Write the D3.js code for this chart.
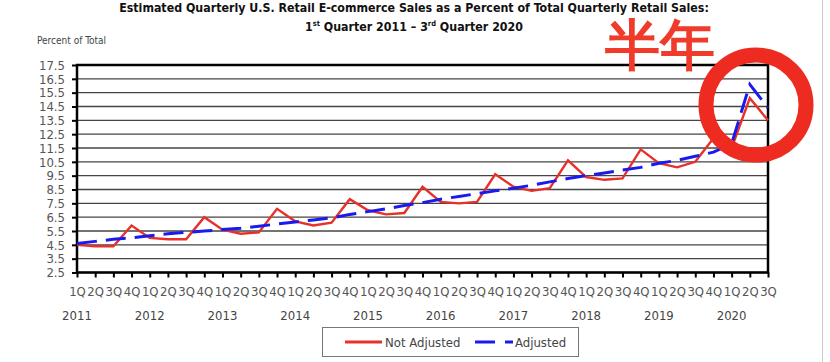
<!DOCTYPE html>
<html>
<head>
<meta charset="utf-8">
<script src="https://cdn.jsdelivr.net/npm/d3@7"></script>
<style>
  body { margin: 0; background: #fff; }
  svg { display: block; }
  text { font-family: "Liberation Sans Narrow", "Arial Narrow", "DejaVu Sans Condensed", sans-serif; }
</style>
</head>
<body>
<svg id="chart" width="830" height="362"></svg>
<script>
// quarters 1Q 2011 .. 3Q 2020
var quarters = [];
var years = ["2011","2012","2013","2014","2015","2016","2017","2018","2019","2020"];
years.forEach(function(y) {
    ["1Q","2Q","3Q","4Q"].forEach(function(q) { quarters.push(q + " " + y); });
});
quarters = quarters.slice(0, 39);

var notAdjusted = [4.5, 4.4, 4.4, 5.9, 5.0, 4.9, 4.9, 6.5, 5.6, 5.3, 5.4, 7.1,
                   6.2, 5.9, 6.1, 7.8, 7.0, 6.7, 6.8, 8.7, 7.6, 7.5, 7.6, 9.6,
                   8.7, 8.4, 8.6, 10.6, 9.4, 9.2, 9.3, 11.4, 10.4, 10.1, 10.5, 12.2,
                   11.5, 15.1, 13.5];
var adjusted = [4.6, 4.75, 4.9, 5.0, 5.15, 5.3, 5.4, 5.5, 5.6, 5.7, 5.85, 6.0,
                6.15, 6.3, 6.45, 6.7, 6.9, 7.1, 7.35, 7.55, 7.8, 8.0, 8.2, 8.4,
                8.6, 8.8, 9.05, 9.3, 9.5, 9.7, 9.9, 10.1, 10.4, 10.6, 10.9, 11.2,
                11.8, 16.1, 14.4];
var yTicks = [2.5, 3.5, 4.5, 5.5, 6.5, 7.5, 8.5, 9.5, 10.5, 11.5, 12.5, 13.5, 14.5, 15.5, 16.5, 17.5];

var svg = d3.select("#chart");
var plotLeft = 77, plotRight = 768, plotTop = 65, plotBottom = 272.5;

var x = d3.scalePoint().domain(quarters).range([plotLeft, plotRight]);
var y = d3.scaleLinear().domain([2.5, 17.5]).range([plotBottom, plotTop]);

// title
var title = svg.append("g").attr("text-anchor", "middle").attr("font-weight", "bold").attr("fill", "#111");
title.append("text")
    .attr("x", 414).attr("y", 12)
    .attr("font-size", 12.3)
    .text("Estimated Quarterly U.S. Retail E-commerce Sales as a Percent of Total Quarterly Retail Sales:");
var t2 = title.append("text").attr("x", 414).attr("y", 31).attr("font-size", 12.3);
t2.append("tspan").text("1");
t2.append("tspan").attr("font-size", 7.5).attr("dy", -5).text("st");
t2.append("tspan").attr("dy", 5).text(" Quarter 2011 \u2013 3");
t2.append("tspan").attr("font-size", 7.5).attr("dy", -5).text("rd");
t2.append("tspan").attr("dy", 5).text(" Quarter 2020");

svg.append("text")
    .attr("x", 37).attr("y", 44)
    .attr("font-size", 10)
    .attr("fill", "#444")
    .text("Percent of Total");

// gridlines
svg.append("g")
    .selectAll("line")
    .data(yTicks)
    .enter().append("line")
    .attr("x1", plotLeft).attr("x2", plotRight)
    .attr("y1", function(d) { return y(d); })
    .attr("y2", function(d) { return y(d); })
    .attr("stroke", "#444")
    .attr("stroke-width", 1.3);

// y axis
var yAxis = svg.append("g")
    .attr("transform", "translate(" + plotLeft + ",0)")
    .call(d3.axisLeft(y).tickValues(yTicks).tickSize(5).tickPadding(7).tickFormat(d3.format(".1f")));
yAxis.select(".domain").remove();
yAxis.selectAll(".tick line").attr("stroke", "#000").attr("stroke-width", 2);
yAxis.selectAll(".tick text")
    .attr("font-family", null)
    .attr("font-size", 13)
    .attr("fill", "#555");

// x axis
var xAxis = svg.append("g")
    .attr("transform", "translate(0," + plotBottom + ")")
    .call(d3.axisBottom(x).tickSize(5).tickPadding(9).tickFormat(function(d) { return d.split(" ")[0]; }));
xAxis.select(".domain").remove();
xAxis.selectAll(".tick line").attr("stroke", "#000").attr("stroke-width", 2);
xAxis.selectAll(".tick text")
    .attr("font-family", null)
    .attr("font-size", 13)
    .attr("fill", "#555");

// years under each 1Q
svg.append("g")
    .selectAll("text")
    .data(years)
    .enter().append("text")
    .attr("x", function(d) { return x("1Q " + d); })
    .attr("y", 320)
    .attr("text-anchor", "middle")
    .attr("font-size", 13)
    .attr("fill", "#444")
    .text(function(d) { return d; });

// plot border
svg.append("rect")
    .attr("x", plotLeft).attr("y", plotTop)
    .attr("width", plotRight - plotLeft).attr("height", plotBottom - plotTop)
    .attr("fill", "none")
    .attr("stroke", "#000")
    .attr("stroke-width", 2.5);

var line = d3.line()
    .x(function(d, i) { return x(quarters[i]); })
    .y(function(d) { return y(d); });

svg.append("path")
    .datum(notAdjusted)
    .attr("d", line)
    .attr("fill", "none")
    .attr("stroke", "#e8302a")
    .attr("stroke-width", 2.4)
    .attr("stroke-linejoin", "miter");

svg.append("path")
    .datum(adjusted)
    .attr("d", line)
    .attr("fill", "none")
    .attr("stroke", "#1a1aee")
    .attr("stroke-width", 3)
    .attr("stroke-dasharray", "20,9");

// legend
var legend = svg.append("g");
legend.append("rect")
    .attr("x", 322.5).attr("y", 327.5)
    .attr("width", 256).attr("height", 29)
    .attr("fill", "#fff")
    .attr("stroke", "#777")
    .attr("stroke-width", 1);
legend.append("line")
    .attr("x1", 345).attr("x2", 382).attr("y1", 342).attr("y2", 342)
    .attr("stroke", "#e8302a").attr("stroke-width", 3);
legend.append("text")
    .attr("x", 385).attr("y", 347)
    .attr("font-size", 13).attr("fill", "#444")
    .text("Not Adjusted");
legend.append("line")
    .attr("x1", 475).attr("x2", 513).attr("y1", 342).attr("y2", 342)
    .attr("stroke", "#1a1aee").attr("stroke-width", 3)
    .attr("stroke-dasharray", "20,10");
legend.append("text")
    .attr("x", 515).attr("y", 347)
    .attr("font-size", 13).attr("fill", "#444")
    .text("Adjusted");

// annotation
svg.append("text")
    .attr("x", 660).attr("y", 64)
    .attr("text-anchor", "middle")
    .attr("font-family", "'Noto Sans CJK SC', sans-serif")
    .attr("font-weight", "bold")
    .attr("font-size", 55)
    .attr("fill", "#f03a2a")
    .text("半年");

svg.append("circle")
    .attr("cx", 756).attr("cy", 105).attr("r", 50)
    .attr("fill", "none")
    .attr("stroke", "#ee2b20")
    .attr("stroke-width", 15);

svg.append("line")
    .attr("x1", 822.5).attr("x2", 822.5).attr("y1", 0).attr("y2", 362)
    .attr("stroke", "#ccc").attr("stroke-width", 1);
</script>
</body>
</html>
